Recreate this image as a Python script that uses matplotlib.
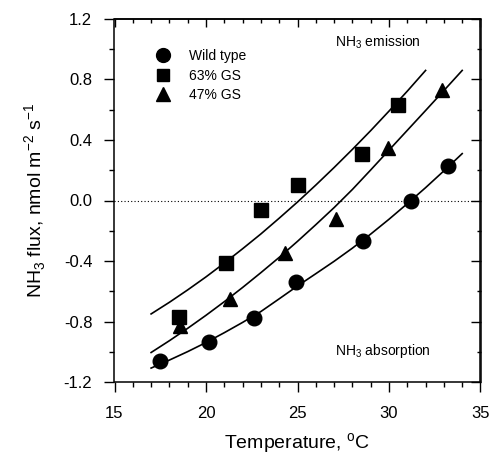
import matplotlib
matplotlib.use("Agg")
import matplotlib.pyplot as plt
from matplotlib.ticker import MultipleLocator, NullFormatter

plt.rcParams['font.family'] = ['Liberation Sans', 'DejaVu Sans']
plt.rcParams['mathtext.fontset'] = 'custom'
plt.rcParams['mathtext.rm'] = 'Liberation Sans'

# Data points
wt_T = [17.5, 20.15, 22.6, 24.9, 28.6, 31.2, 33.2]
wt_F = [-1.06, -0.935, -0.78, -0.54, -0.27, 0.0, 0.23]
gs63_T = [18.5, 21.1, 23.0, 25.0, 28.5, 30.5]
gs63_F = [-0.77, -0.415, -0.06, 0.10, 0.31, 0.63]
gs47_T = [18.6, 21.3, 24.3, 27.1, 29.95, 32.9]
gs47_F = [-0.83, -0.65, -0.35, -0.12, 0.35, 0.73]

# Fitted curves
fit_T = [17, 18, 19, 20, 21, 22, 23, 24, 25, 26, 27, 28, 29, 30, 31, 32, 33, 34]
fit_wt_F = [-1.108, -1.055, -0.999, -0.939, -0.874, -0.806, -0.734, -0.650, -0.565,
            -0.484, -0.402, -0.315, -0.222, -0.124, -0.021, 0.085, 0.196, 0.310]
fit63_T = [17, 18, 19, 20, 21, 22, 23, 24, 25, 26, 27, 28, 29, 30, 31, 32]
fit63_F = [-0.750, -0.673, -0.591, -0.505, -0.414, -0.319, -0.221, -0.117, -0.010,
           0.102, 0.218, 0.338, 0.462, 0.591, 0.723, 0.860]
fit47_F = [-1.005, -0.927, -0.845, -0.759, -0.669, -0.575, -0.477, -0.376, -0.270,
           -0.160, -0.047, 0.073, 0.202, 0.333, 0.464, 0.595, 0.727, 0.860]

fig = plt.figure(figsize=(5.02, 4.62), dpi=100)
ax = fig.add_axes([114.5 / 502, 1 - 382 / 462, 366 / 502, 363 / 462])

lw = 1.2
ax.plot(fit_T, fit_wt_F, color='black', lw=lw)
ax.plot(fit63_T, fit63_F, color='black', lw=lw)
ax.plot(fit_T, fit47_F, color='black', lw=lw)

ax.plot(wt_T, wt_F, 'o', color='black', ms=10.5, ls='none', label='Wild type')
ax.plot(gs63_T, gs63_F, 's', color='black', ms=9.5, ls='none', label='63% GS')
ax.plot(gs47_T, gs47_F, '^', color='black', ms=10.5, ls='none', label='47% GS')

ax.axhline(0, color='black', lw=0.8, ls=(0, (1, 2)))

ax.set_xlim(15, 35)
ax.set_ylim(-1.2, 1.2)
ax.xaxis.set_major_locator(MultipleLocator(5))
ax.xaxis.set_minor_locator(MultipleLocator(1))
ax.yaxis.set_major_locator(MultipleLocator(0.4))
ax.yaxis.set_minor_locator(MultipleLocator(0.2))
ax.yaxis.set_major_formatter(matplotlib.ticker.FormatStrFormatter('%.1f'))
ax.tick_params(which='both', direction='out', labelsize=12)
ax.tick_params(which='major', length=7, width=1)
ax.tick_params(which='minor', length=3.5, width=1)
ax.tick_params(axis='x', pad=10)
ax.tick_params(axis='y', pad=9)
for s in ax.spines.values():
    s.set_linewidth(1.1)

# inward ticks on top and right
top = ax.secondary_xaxis('top')
top.xaxis.set_major_locator(MultipleLocator(5))
top.xaxis.set_minor_locator(MultipleLocator(1))
top.tick_params(which='both', direction='in', labeltop=False)
top.tick_params(which='major', length=6, width=1)
top.tick_params(which='minor', length=3, width=1)
top.xaxis.set_major_formatter(NullFormatter())
top.spines['top'].set_linewidth(1.1)
right = ax.secondary_yaxis('right')
right.yaxis.set_major_locator(MultipleLocator(0.4))
right.yaxis.set_minor_locator(MultipleLocator(0.2))
right.tick_params(which='both', direction='in', labelright=False)
right.tick_params(which='major', length=7, width=1)
right.tick_params(which='minor', length=3, width=1)
right.yaxis.set_major_formatter(NullFormatter())
right.spines['right'].set_linewidth(1.1)

ax.set_xlabel('Temperature, $^\\mathregular{o}$C', fontsize=14, labelpad=8)
ax.set_ylabel('NH$_\\mathregular{3}$ flux, nmol m$^\\mathregular{-2}$ s$^\\mathregular{-1}$',
              fontsize=14, labelpad=11)

ax.text(29.4, 1.048, 'NH$_\\mathregular{3}$ emission', fontsize=10, ha='center', va='center')
ax.text(29.67, -0.995, 'NH$_\\mathregular{3}$ absorption', fontsize=10, ha='center', va='center')

leg = ax.legend(loc='upper left', bbox_to_anchor=(0.097, 0.932), frameon=False,
                fontsize=10, handletextpad=1.4, labelspacing=0.4, handlelength=1.0,
                markerscale=0.95, borderaxespad=0)

fig.savefig('out.png', dpi=100)
